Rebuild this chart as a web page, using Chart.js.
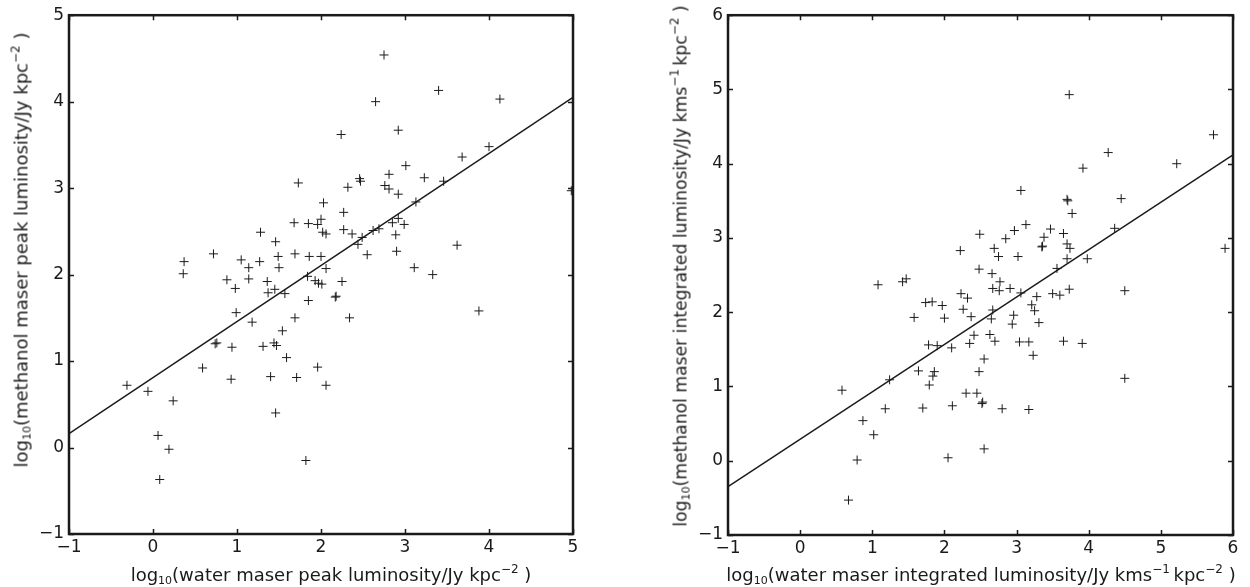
<!DOCTYPE html>
<html>
<head>
<meta charset="utf-8">
<script src="https://cdn.jsdelivr.net/npm/chart.js@4"></script>
<style>
  body { margin: 0; background: #fff; }
  #wrap { position: relative; width: 1250px; height: 587px; font-family: "DejaVu Sans", sans-serif; color: #1a1a1a; }
  .panel { position: absolute; top: 0; width: 625px; height: 587px; }
  .xt, .yt { position: absolute; font-size: 18px; white-space: nowrap; line-height: 1; }
  .xt { top: 563px; transform: translateX(-50%); }
  .yt { transform: translate(-50%, -50%) rotate(-90deg); }
  .yt.small { font-size: 17.2px; }
  sub { font-size: 11px; vertical-align: -3px; }
  sup { font-size: 12px; vertical-align: 8px; }
</style>
</head>
<body>
<div id="wrap">
  <div class="panel" style="left:0"><canvas id="peak"></canvas></div>
  <div class="panel" style="left:625px"><canvas id="integ"></canvas></div>
  <div class="xt" style="left:331px">log<sub>10</sub>(water maser peak luminosity/Jy kpc<sup>−2</sup> )</div>
  <div class="yt" style="left:21px;top:250px">log<sub>10</sub>(methanol maser peak luminosity/Jy kpc<sup>−2</sup> )</div>
  <div class="xt" style="left:981px">log<sub>10</sub>(water maser integrated luminosity/Jy kms<sup>−1</sup>&thinsp;kpc<sup>−2</sup> )</div>
  <div class="yt small" style="left:680px;top:266px">log<sub>10</sub>(methanol maser integrated luminosity/Jy kms<sup>−1</sup>&thinsp;kpc<sup>−2</sup> )</div>
</div>
<script>
// peak luminosity panel
const peakWater = [-0.31, -0.06, 0.06, 0.08, 0.19, 0.24, 0.36, 0.37, 0.59, 0.72, 0.74, 0.76, 0.88, 0.93, 0.94, 0.98, 0.99, 1.05, 1.14, 1.14,
  1.18, 1.27, 1.28, 1.31, 1.36, 1.37, 1.40, 1.44, 1.45, 1.46, 1.46, 1.47, 1.49, 1.50, 1.54, 1.57, 1.59, 1.68, 1.69, 1.69,
  1.71, 1.73, 1.82, 1.84, 1.85, 1.85, 1.86, 1.93, 1.96, 1.96, 1.97, 2.00, 2.00, 2.01, 2.02, 2.03, 2.06, 2.06, 2.06, 2.17,
  2.18, 2.24, 2.25, 2.27, 2.27, 2.32, 2.34, 2.37, 2.44, 2.46, 2.47, 2.49, 2.55, 2.62, 2.65, 2.69, 2.75, 2.76, 2.81, 2.81,
  2.85, 2.89, 2.90, 2.92, 2.92, 2.92, 2.99, 3.01, 3.11, 3.13, 3.23, 3.33, 3.40, 3.46, 3.62, 3.68, 3.88, 4.00, 4.13, 4.98];
const peakMethanol = [0.72, 0.65, 0.14, -0.37, -0.02, 0.54, 2.01, 2.15, 0.92, 2.24, 1.20, 1.21, 1.94, 0.79, 1.16, 1.84, 1.56, 2.17, 2.08, 1.95,
  1.45, 2.15, 2.49, 1.17, 1.92, 1.79, 0.82, 1.21, 1.83, 2.38, 0.40, 1.18, 2.21, 2.08, 1.35, 1.78, 1.04, 2.60, 2.24, 1.50,
  0.81, 3.06, -0.15, 1.98, 2.59, 1.70, 2.21, 1.93, 2.58, 0.93, 1.90, 2.64, 2.21, 1.89, 2.49, 2.83, 2.47, 2.07, 0.72, 1.74,
  1.75, 3.62, 1.92, 2.72, 2.52, 3.01, 1.50, 2.47, 2.35, 3.11, 3.08, 2.43, 2.23, 2.51, 4.00, 2.53, 4.54, 3.03, 3.16, 2.99,
  2.60, 2.46, 2.27, 3.67, 2.93, 2.65, 2.58, 3.26, 2.08, 2.84, 3.12, 2.00, 4.13, 3.08, 2.34, 3.36, 1.58, 3.48, 4.03, 2.97];
const peakFitX = [-1, 5];
const peakFitY = [0.16, 4.05];
const peakRange = [-1, 5];

// integrated luminosity panel
const intWater = [0.58, 0.67, 0.79, 0.87, 1.02, 1.08, 1.18, 1.24, 1.42, 1.47, 1.58, 1.64, 1.70, 1.74, 1.78, 1.79, 1.83, 1.84, 1.86, 1.90,
  1.97, 2.00, 2.05, 2.10, 2.11, 2.22, 2.23, 2.26, 2.30, 2.32, 2.35, 2.37, 2.41, 2.45, 2.48, 2.48, 2.49, 2.52, 2.53, 2.55,
  2.55, 2.63, 2.65, 2.66, 2.67, 2.67, 2.69, 2.70, 2.75, 2.76, 2.77, 2.80, 2.85, 2.91, 2.94, 2.96, 2.97, 3.02, 3.04, 3.06,
  3.06, 3.13, 3.17, 3.17, 3.21, 3.23, 3.25, 3.28, 3.31, 3.35, 3.36, 3.38, 3.47, 3.50, 3.56, 3.60, 3.65, 3.65, 3.70, 3.71,
  3.70, 3.70, 3.73, 3.73, 3.74, 3.77, 3.91, 3.92, 3.98, 4.27, 4.36, 4.45, 4.50, 4.50, 5.22, 5.73, 5.89];
const intMethanol = [0.95, -0.53, 0.01, 0.54, 0.35, 2.37, 0.70, 1.09, 2.41, 2.45, 1.93, 1.21, 0.71, 2.13, 1.56, 1.02, 2.14, 1.14, 1.20, 1.55,
  2.09, 1.92, 0.04, 1.52, 0.74, 2.83, 2.25, 2.04, 0.91, 2.19, 1.58, 1.94, 1.69, 0.91, 2.58, 1.20, 3.05, 0.77, 0.79, 1.37,
  0.16, 1.70, 1.91, 2.52, 2.32, 2.03, 2.86, 1.61, 2.75, 2.29, 2.41, 0.70, 2.99, 2.32, 1.84, 1.96, 3.10, 2.75, 1.60, 2.26,
  3.64, 3.18, 1.60, 0.69, 2.10, 1.42, 2.02, 2.21, 1.86, 2.88, 2.89, 3.01, 3.12, 2.25, 2.59, 2.23, 3.06, 1.61, 3.52, 3.50,
  2.92, 2.72, 2.31, 4.93, 2.86, 3.33, 1.58, 3.94, 2.72, 4.15, 3.13, 3.53, 2.29, 1.11, 4.00, 4.39, 2.86];
const intFitX = [-1, 6];
const intFitY = [-0.35, 4.12];
const intRange = [-1, 6];

const INK = '#1a1a1a';
const tickFont = { family: 'DejaVu Sans', size: 17 };

function pairs(xs, ys) {
  return xs.map((x, i) => ({ x: x, y: ys[i] }));
}

function minusLabel(v) {
  return v < 0 ? '\u2212' + Math.abs(v) : String(v);
}

// box round the axes and inward ticks on all four sides, as in the original
const framePlugin = {
  id: 'frame',
  afterDraw(chart) {
    const { ctx, chartArea: a, scales } = chart;
    ctx.save();
    ctx.strokeStyle = INK;
    ctx.lineWidth = 1.5;
    ctx.beginPath();
    scales.x.ticks.forEach(t => {
      const px = Math.round(scales.x.getPixelForValue(t.value)) + 0.5;
      ctx.moveTo(px, a.bottom); ctx.lineTo(px, a.bottom - 5);
      ctx.moveTo(px, a.top); ctx.lineTo(px, a.top + 5);
    });
    scales.y.ticks.forEach(t => {
      const py = Math.round(scales.y.getPixelForValue(t.value)) + 0.5;
      ctx.moveTo(a.left, py); ctx.lineTo(a.left + 5, py);
      ctx.moveTo(a.right, py); ctx.lineTo(a.right - 5, py);
    });
    ctx.stroke();
    ctx.lineWidth = 2.5;
    ctx.strokeRect(a.left, a.top, a.right - a.left, a.bottom - a.top);
    ctx.restore();
  }
};

function createPanel(canvasId, cfg) {
  const el = document.getElementById(canvasId);
  return new Chart(el.getContext('2d'), {
    type: 'scatter',
    data: {
      datasets: [{
        data: pairs(cfg.xs, cfg.ys),
        pointStyle: 'cross',
        pointRadius: 4.5,
        borderColor: INK,
        borderWidth: 1,
        backgroundColor: INK,
        clip: 0
      }, {
        type: 'line',
        data: pairs(cfg.fitX, cfg.fitY),
        borderColor: INK,
        borderWidth: 1.5,
        pointRadius: 0,
        fill: false,
        clip: 0
      }]
    },
    options: {
      responsive: true,
      maintainAspectRatio: false,
      animation: false,
      layout: {
        padding: { left: 0, right: cfg.padRight, top: 12, bottom: 0 }
      },
      plugins: {
        legend: { display: false },
        tooltip: { enabled: false }
      },
      scales: {
        x: {
          type: 'linear',
          min: cfg.range[0],
          max: cfg.range[1],
          grid: { display: false, drawTicks: false },
          border: { display: false },
          ticks: {
            stepSize: 1,
            color: INK,
            font: tickFont,
            padding: 3,
            maxRotation: 0,
            callback: minusLabel
          },
          afterFit: function(scale) { scale.height = cfg.xAxisHeight; }
        },
        y: {
          type: 'linear',
          min: cfg.range[0],
          max: cfg.range[1],
          grid: { display: false, drawTicks: false },
          border: { display: false },
          ticks: {
            stepSize: 1,
            color: INK,
            font: tickFont,
            padding: 5,
            callback: minusLabel
          },
          afterFit: function(scale) { scale.width = cfg.yAxisWidth; }
        }
      }
    },
    plugins: [framePlugin]
  });
}

createPanel('peak', {
  xs: peakWater, ys: peakMethanol,
  fitX: peakFitX, fitY: peakFitY,
  range: peakRange,
  yAxisWidth: 69, xAxisHeight: 53, padRight: 52
});

createPanel('integ', {
  xs: intWater, ys: intMethanol,
  fitX: intFitX, fitY: intFitY,
  range: intRange,
  yAxisWidth: 103, xAxisHeight: 52, padRight: 17
});
</script>
</body>
</html>
